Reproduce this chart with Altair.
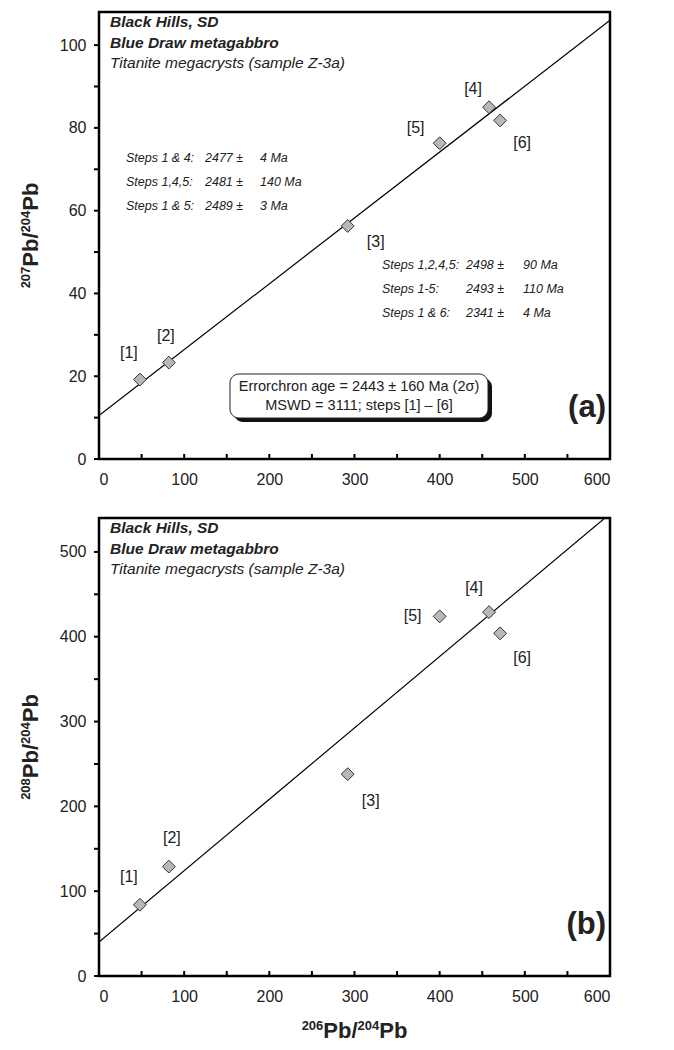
import altair as alt
import pandas as pd

# ---------------- data ----------------
steps = ["[1]", "[2]", "[3]", "[4]", "[5]", "[6]"]
pb206 = [48, 82, 292, 458, 400, 471]
pb207 = [19.2, 23.3, 56.3, 85.0, 76.3, 81.8]
pb208 = [84, 129, 238, 429, 424, 404]

line_x = [0, 600]
line_a_y = [10.5, 106]
line_b_y = [40, 545]

x_major = [0, 100, 200, 300, 400, 500, 600]
x_minor = [50, 150, 250, 350, 450, 550]
ya_major = [0, 20, 40, 60, 80, 100]
ya_minor = [10, 30, 50, 70, 90]
yb_major = [0, 100, 200, 300, 400, 500]
yb_minor = [50, 150, 250, 350, 450]

header = ["Black Hills, SD", "Blue Draw metagabbro", "Titanite megacrysts (sample Z-3a)"]
steps_l = ["Steps 1 & 4:", "Steps 1,4,5:", "Steps 1 & 5:"]
ages_l = ["2477 ±", "2481 ±", "2489 ±"]
errs_l = ["4 Ma", "140 Ma", "3 Ma"]
steps_r = ["Steps 1,2,4,5:", "Steps 1-5:", "Steps 1 & 6:"]
ages_r = ["2498 ±", "2493 ±", "2341 ±"]
errs_r = ["90 Ma", "110 Ma", "4 Ma"]
box_lines = ["Errorchron age = 2443 ± 160 Ma (2σ)", "MSWD = 3111; steps [1] – [6]"]

# axis titles: (text, superscript?) pieces
title_x = [("206", True), ("Pb/", False), ("204", True), ("Pb", False)]
title_ya = [("207", True), ("Pb/", False), ("204", True), ("Pb", False)]
title_yb = [("208", True), ("Pb/", False), ("204", True), ("Pb", False)]

# ---------------- style ----------------
W = 511
HA, HB = 447, 458
FONT = "Liberation Sans"
INK = "#222"
BIG, SMALL = 22, 13
# approximate advance widths (em) of Liberation Sans Bold
ADV = {"0": .556, "2": .556, "4": .556, "6": .556, "7": .556, "8": .556,
       "P": .667, "b": .611, "/": .278}
offs_a = {"[1]": (-11, -27), "[2]": (-3, -27), "[3]": (28, 16), "[4]": (-16, -18),
          "[5]": (-24, -15), "[6]": (22, 23)}
offs_b = {"[1]": (-11, -28), "[2]": (3, -29), "[3]": (23, 27), "[4]": (-15, -24),
          "[5]": (-27, 0), "[6]": (22, 25)}

xs = alt.Scale(domain=[0, 600], nice=False, zero=False)


def piece_widths(pieces):
    return [sum(ADV[c] for c in t) * (SMALL if sup else BIG) for t, sup in pieces]


def x_title_layers(pieces, H):
    ws = piece_widths(pieces)
    x0 = W / 2 - sum(ws) / 2
    out = []
    for (t, sup), w in zip(pieces, ws):
        out.append(alt.Chart(pd.DataFrame({"t": [t]})).mark_text(
            align="left", baseline="alphabetic", font=FONT, fontWeight="bold",
            fontSize=SMALL if sup else BIG, color=INK).encode(
            x=alt.value(x0), y=alt.value(H + 62 - (8 if sup else 0)), text="t:N"))
        x0 += w
    return out


def y_title_layers(pieces, H):
    ws = piece_widths(pieces)
    y0 = H / 2 + sum(ws) / 2
    xb = -61
    out = []
    for (t, sup), w in zip(pieces, ws):
        out.append(alt.Chart(pd.DataFrame({"t": [t]})).mark_text(
            align="left", baseline="alphabetic", angle=270, font=FONT, fontWeight="bold",
            fontSize=SMALL if sup else BIG, color=INK).encode(
            x=alt.value(xb - (8 if sup else 0)), y=alt.value(y0), text="t:N"))
        y0 -= w
    return out


def panel(H, yvals, liney, ydom, ymaj, ymin, offs, ytitle, xtitle, tag, with_box):
    ys = alt.Scale(domain=ydom, nice=False, zero=False)
    xaxis = alt.Axis(values=x_major, ticks=False, domain=False, grid=False, labelPadding=12,
                     labelFontSize=16, labelColor=INK, title=None, labelFont=FONT)
    yaxis = alt.Axis(values=ymaj, ticks=False, domain=False, grid=False, labelPadding=13,
                     labelFontSize=16, labelColor=INK, title=None, labelFont=FONT)
    X = lambda f: alt.X(f, scale=xs, axis=xaxis)
    Y = lambda f: alt.Y(f, scale=ys, axis=yaxis)

    df = pd.DataFrame({"x": pb206, "y": yvals, "lab": steps})

    ldf = pd.DataFrame({"x": line_x, "y": liney})
    line = alt.Chart(ldf).mark_line(color="black", strokeWidth=1.2, clip=True).encode(
        x=X("x:Q"), y=Y("y:Q"))
    layers = [line]

    for i, t in enumerate(header):
        layers.append(alt.Chart(pd.DataFrame({"t": [t]})).mark_text(
            align="left", baseline="middle", fontSize=15.5, font=FONT, fontStyle="italic",
            fontWeight="bold" if i < 2 else "normal", color=INK).encode(
            x=alt.value(11), y=alt.value(10 + 20.5 * i), text="t:N"))

    if with_box:
        def block(texts, px, py0):
            d = pd.DataFrame({"t": texts, "py": [py0 + 24 * i for i in range(len(texts))]})
            return alt.Chart(d).mark_text(align="left", baseline="middle", fontSize=12.5,
                                          font=FONT, fontStyle="italic", color=INK).encode(
                x=alt.value(px), y=alt.Y("py:Q", scale=None), text="t:N")
        layers += [block(steps_l, 27, 146), block(ages_l, 106, 146), block(errs_l, 161, 146),
                   block(steps_r, 283, 253), block(ages_r, 367, 253), block(errs_r, 424, 253)]
        bx0, bx1, by0, by1 = 131, 389, 362, 406
        shadow = alt.Chart(pd.DataFrame({"a": [0]})).mark_rect(
            color="#111", cornerRadius=9).encode(
            x=alt.value(bx0 + 4), x2=alt.value(bx1 + 4), y=alt.value(by0 + 4), y2=alt.value(by1 + 4))
        box = alt.Chart(pd.DataFrame({"a": [0]})).mark_rect(
            fill="white", stroke=INK, strokeWidth=1, cornerRadius=9).encode(
            x=alt.value(bx0), x2=alt.value(bx1), y=alt.value(by0), y2=alt.value(by1))
        btxt = alt.Chart(pd.DataFrame({"t": box_lines, "py": [by0 + 13, by0 + 32]})).mark_text(
            align="center", baseline="middle", fontSize=14.5, font=FONT, color=INK).encode(
            x=alt.value((bx0 + bx1) / 2), y=alt.Y("py:Q", scale=None), text="t:N")
        layers += [shadow, box, btxt]

    for s in steps:
        d = df[df["lab"] == s]
        dx, dy = offs[s]
        layers.append(alt.Chart(d).mark_text(fontSize=16, font=FONT, color=INK, dx=dx, dy=dy,
                                             baseline="middle", align="center").encode(
            x=X("x:Q"), y=Y("y:Q"), text="lab:N"))

    pts = alt.Chart(df).mark_point(shape="diamond", filled=True, fill="#b8b8b8", stroke="#333",
                                   strokeWidth=1, size=165, opacity=1).encode(
        x=X("x:Q"), y=Y("y:Q"))
    tagt = alt.Chart(pd.DataFrame({"t": [tag]})).mark_text(
        align="right", baseline="middle", fontSize=31, fontWeight="bold", font=FONT,
        color=INK).encode(x=alt.value(W - 4), y=alt.value(H - 51), text="t:N")

    tx = pd.DataFrame({"v": x_major + x_minor})
    ty = pd.DataFrame({"v": ymaj + ymin})
    xt = alt.Chart(tx).mark_rule(color="black", strokeWidth=2).encode(
        x=X("v:Q"), y=alt.value(H), y2=alt.value(H - 5))
    yt = alt.Chart(ty).mark_rule(color="black", strokeWidth=2).encode(
        y=Y("v:Q"), x=alt.value(-5), x2=alt.value(0))

    layers += [pts, tagt, xt, yt] + y_title_layers(ytitle, H)
    if xtitle:
        layers += x_title_layers(xtitle, H)
    return alt.layer(*layers).properties(width=W, height=H)


pa = panel(HA, pb207, line_a_y, [0, 108], ya_major, ya_minor, offs_a, title_ya, None, "(a)", True)
pb = panel(HB, pb208, line_b_y, [0, 540], yb_major, yb_minor, offs_b, title_yb, title_x, "(b)", False)

chart = alt.vconcat(pa, pb, spacing=27).properties(
    padding={"left": 10, "top": 2, "right": 0, "bottom": 0}
).configure(font=FONT, background="white").configure_view(stroke="black", strokeWidth=2.5)

chart.save("out.html", embed_options={"renderer": "svg", "actions": False})
